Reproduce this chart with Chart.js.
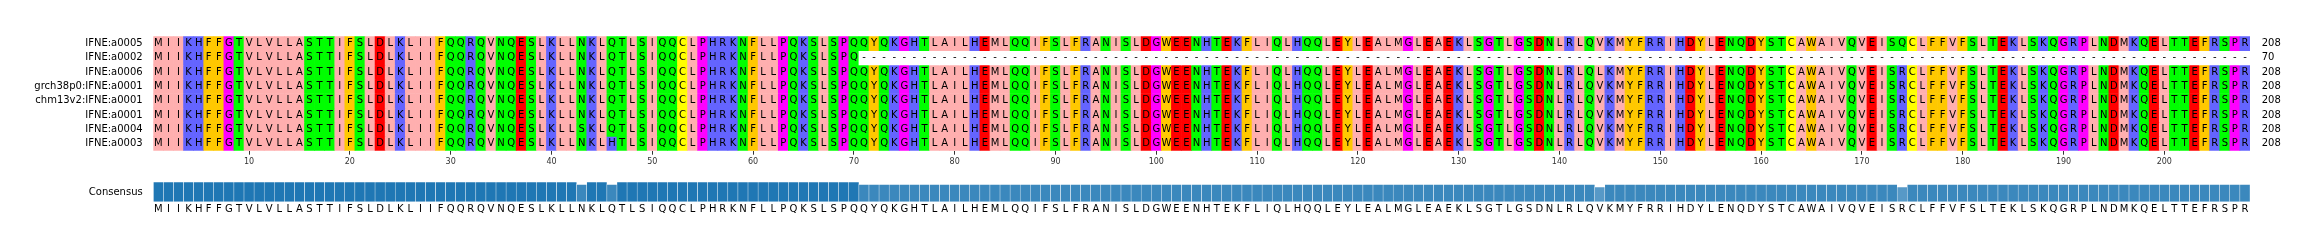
<!DOCTYPE html>
<html>
<head>
<meta charset="utf-8">
<title>IFNE alignment</title>
<script src="https://cdn.jsdelivr.net/npm/chart.js@4.4.0/dist/chart.umd.min.js"></script>
<style>
  html, body { margin: 0; padding: 0; background: #fff; }
  #wrap { position: relative; width: 2314px; height: 251px; overflow: hidden; background: #fff; }
  #grafico-alineamiento { position: absolute; left: 0; top: 0; }
  #grafico-consenso { position: absolute; left: 0; top: 165px; }
</style>
</head>
<body>
<div id="wrap">
  <canvas id="grafico-alineamiento" width="2314" height="170"></canvas>
  <canvas id="grafico-consenso" width="2314" height="86"></canvas>
</div>
<script>
// --- Datos del alineamiento ---
const seqNames = ['IFNE:a0005', 'IFNE:a0002', 'IFNE:a0006', 'grch38p0:IFNE:a0001',
                  'chm13v2:IFNE:a0001', 'IFNE:a0001', 'IFNE:a0004', 'IFNE:a0003'];
const seqLengths = [208, 70, 208, 208, 208, 208, 208, 208];

const alignedSeqs = [
    'MIIKHFFGTVLVLLASTTIFSLDLKLIIFQQRQVNQESLKLLNKLQTLSIQQCLPHRKNFLLPQKSLSPQQYQKGHTLAILHEMLQQIFSLFRANISLDGWEENHTEKFLIQLHQQLEYLEALMGLEAEKLSGTLGSDNLRLQVKMYFRRIHDYLENQDYSTCAWAIVQVEISQCLFFVFSLTEKLSKQGRPLNDMKQELTTEFRSPR',
    'MIIKHFFGTVLVLLASTTIFSLDLKLIIFQQRQVNQESLKLLNKLQTLSIQQCLPHRKNFLLPQKSLSPQ' + '-'.repeat(138),
    'MIIKHFFGTVLVLLASTTIFSLDLKLIIFQQRQVNQESLKLLNKLQTLSIQQCLPHRKNFLLPQKSLSPQQYQKGHTLAILHEMLQQIFSLFRANISLDGWEENHTEKFLIQLHQQLEYLEALMGLEAEKLSGTLGSDNLRLQLKMYFRRIHDYLENQDYSTCAWAIVQVEISRCLFFVFSLTEKLSKQGRPLNDMKQELTTEFRSPR',
    'MIIKHFFGTVLVLLASTTIFSLDLKLIIFQQRQVNQESLKLLNKLQTLSIQQCLPHRKNFLLPQKSLSPQQYQKGHTLAILHEMLQQIFSLFRANISLDGWEENHTEKFLIQLHQQLEYLEALMGLEAEKLSGTLGSDNLRLQVKMYFRRIHDYLENQDYSTCAWAIVQVEISRCLFFVFSLTEKLSKQGRPLNDMKQELTTEFRSPR',
    'MIIKHFFGTVLVLLASTTIFSLDLKLIIFQQRQVNQESLKLLNKLQTLSIQQCLPHRKNFLLPQKSLSPQQYQKGHTLAILHEMLQQIFSLFRANISLDGWEENHTEKFLIQLHQQLEYLEALMGLEAEKLSGTLGSDNLRLQVKMYFRRIHDYLENQDYSTCAWAIVQVEISRCLFFVFSLTEKLSKQGRPLNDMKQELTTEFRSPR',
    'MIIKHFFGTVLVLLASTTIFSLDLKLIIFQQRQVNQESLKLLNKLQTLSIQQCLPHRKNFLLPQKSLSPQQYQKGHTLAILHEMLQQIFSLFRANISLDGWEENHTEKFLIQLHQQLEYLEALMGLEAEKLSGTLGSDNLRLQVKMYFRRIHDYLENQDYSTCAWAIVQVEISRCLFFVFSLTEKLSKQGRPLNDMKQELTTEFRSPR',
    'MIIKHFFGTVLVLLASTTIFSLDLKLIIFQQRQVNQESLKLLSKLQTLSIQQCLPHRKNFLLPQKSLSPQQYQKGHTLAILHEMLQQIFSLFRANISLDGWEENHTEKFLIQLHQQLEYLEALMGLEAEKLSGTLGSDNLRLQVKMYFRRIHDYLENQDYSTCAWAIVQVEISRCLFFVFSLTEKLSKQGRPLNDMKQELTTEFRSPR',
    'MIIKHFFGTVLVLLASTTIFSLDLKLIIFQQRQVNQESLKLLNKLHTLSIQQCLPHRKNFLLPQKSLSPQQYQKGHTLAILHEMLQQIFSLFRANISLDGWEENHTEKFLIQLHQQLEYLEALMGLEAEKLSGTLGSDNLRLQVKMYFRRIHDYLENQDYSTCAWAIVQVEISRCLFFVFSLTEKLSKQGRPLNDMKQELTTEFRSPR'
];

const consensusSeq = 'MIIKHFFGTVLVLLASTTIFSLDLKLIIFQQRQVNQESLKLLNKLQTLSIQQCLPHRKNFLLPQKSLSPQQYQKGHTLAILHEMLQQIFSLFRANISLDGWEENHTEKFLIQLHQQLEYLEALMGLEAEKLSGTLGSDNLRLQVKMYFRRIHDYLENQDYSTCAWAIVQVEISRCLFFVFSLTEKLSKQGRPLNDMKQELTTEFRSPR';

// identidad del consenso (%), por columna
const consensusIdentity = [
    100, 100, 100, 100, 100, 100, 100, 100, 100, 100,
    100, 100, 100, 100, 100, 100, 100, 100, 100, 100,
    100, 100, 100, 100, 100, 100, 100, 100, 100, 100,
    100, 100, 100, 100, 100, 100, 100, 100, 100, 100,
    100, 100, 87.5, 100, 100, 87.5, 100, 100, 100, 100,
    100, 100, 100, 100, 100, 100, 100, 100, 100, 100,
    100, 100, 100, 100, 100, 100, 100, 100, 100, 100,
    87.5, 87.5, 87.5, 87.5, 87.5, 87.5, 87.5, 87.5, 87.5, 87.5,
    87.5, 87.5, 87.5, 87.5, 87.5, 87.5, 87.5, 87.5, 87.5, 87.5,
    87.5, 87.5, 87.5, 87.5, 87.5, 87.5, 87.5, 87.5, 87.5, 87.5,
    87.5, 87.5, 87.5, 87.5, 87.5, 87.5, 87.5, 87.5, 87.5, 87.5,
    87.5, 87.5, 87.5, 87.5, 87.5, 87.5, 87.5, 87.5, 87.5, 87.5,
    87.5, 87.5, 87.5, 87.5, 87.5, 87.5, 87.5, 87.5, 87.5, 87.5,
    87.5, 87.5, 87.5, 87.5, 87.5, 87.5, 87.5, 87.5, 87.5, 87.5,
    87.5, 87.5, 87.5, 75, 87.5, 87.5, 87.5, 87.5, 87.5, 87.5,
    87.5, 87.5, 87.5, 87.5, 87.5, 87.5, 87.5, 87.5, 87.5, 87.5,
    87.5, 87.5, 87.5, 87.5, 87.5, 87.5, 87.5, 87.5, 87.5, 87.5,
    87.5, 87.5, 87.5, 75, 87.5, 87.5, 87.5, 87.5, 87.5, 87.5,
    87.5, 87.5, 87.5, 87.5, 87.5, 87.5, 87.5, 87.5, 87.5, 87.5,
    87.5, 87.5, 87.5, 87.5, 87.5, 87.5, 87.5, 87.5, 87.5, 87.5,
    87.5, 87.5, 87.5, 87.5, 87.5, 87.5, 87.5, 87.5
];

const positionLabels = Array.from({ length: consensusSeq.length }, (_, i) => String(i + 1));
const tickPositions = [10, 20, 30, 40, 50, 60, 70, 80, 90, 100, 110, 120, 130, 140, 150, 160, 170, 180, 190, 200];

// esquema de color Zappo
const zappoColors = {
    I: '#ffafaf', L: '#ffafaf', V: '#ffafaf', A: '#ffafaf', M: '#ffafaf',
    F: '#ffc800', W: '#ffc800', Y: '#ffc800',
    K: '#6464ff', R: '#6464ff', H: '#6464ff',
    D: '#ff0000', E: '#ff0000',
    S: '#00ff00', T: '#00ff00', N: '#00ff00', Q: '#00ff00',
    G: '#ff00ff', P: '#ff00ff',
    C: '#ffff00',
    '-': '#ffffff'
};

Chart.defaults.font.family = "'DejaVu Sans', sans-serif";

// --- Plugin: letras sobre cada celda ---
const letrasPlugin = {
    id: 'letras',
    afterDatasetsDraw(chart) {
        const ctx = chart.ctx;
        ctx.save();
        ctx.font = "10px 'DejaVu Sans'";
        ctx.fillStyle = '#000';
        ctx.textAlign = 'center';
        ctx.textBaseline = 'middle';
        chart.data.datasets.forEach((ds, r) => {
            const meta = chart.getDatasetMeta(r);
            const seq = alignedSeqs[r];
            meta.data.forEach((bar, i) => {
                const p = bar.getProps(['x', 'y', 'base'], true);
                ctx.fillText(seq[i], p.x, (p.y + p.base) / 2);
            });
        });
        ctx.restore();
    }
};

// --- Gráfico del alineamiento ---
const ctxAlign = document.getElementById('grafico-alineamiento').getContext('2d');
new Chart(ctxAlign, {
    type: 'bar',
    data: {
        labels: positionLabels,
        datasets: alignedSeqs.map((seq, r) => ({
            label: seqNames[r],
            data: seq.split('').map(() => [r + 0.5, r + 1.5]),
            backgroundColor: seq.split('').map(c => zappoColors[c]),
            borderWidth: 0,
            grouped: false,
            barPercentage: 1,
            categoryPercentage: 1
        }))
    },
    options: {
        responsive: false,
        animation: false,
        events: [],
        layout: { padding: { top: 36.3, bottom: 0, left: 0, right: 0 } },
        plugins: { legend: { display: false }, tooltip: { enabled: false } },
        scales: {
            x: {
                type: 'category',
                offset: true,
                grid: { display: true, offset: false, drawOnChartArea: false, drawTicks: true, tickLength: 4, color: '#333', lineWidth: 1 },
                border: { display: false },
                ticks: { autoSkip: false, maxRotation: 0, minRotation: 0, padding: 2, color: '#333', font: { size: 8 } },
                afterBuildTicks: s => { s.ticks = tickPositions.map(p => ({ value: p - 1 })); },
                afterFit: s => { s.height = 19.3; }
            },
            y: {
                type: 'linear',
                position: 'left',
                reverse: true,
                min: 0.5,
                max: 8.5,
                grid: { display: false, drawTicks: false },
                border: { display: false },
                afterBuildTicks: s => { s.ticks = seqNames.map((n, i) => ({ value: i + 1 })); },
                ticks: { padding: 10.6, color: '#000', font: { size: 10 }, callback: v => seqNames[v - 1] },
                afterFit: s => { s.width = 153.3; }
            },
            yLen: {
                type: 'linear',
                position: 'right',
                reverse: true,
                min: 0.5,
                max: 8.5,
                grid: { display: false, drawTicks: false },
                border: { display: false },
                afterBuildTicks: s => { s.ticks = seqLengths.map((n, i) => ({ value: i + 1 })); },
                ticks: { padding: 11.7, color: '#000', font: { size: 10 }, callback: v => String(seqLengths[v - 1]) },
                afterFit: s => { s.width = 64; }
            }
        }
    },
    plugins: [letrasPlugin]
});

// --- Gráfico del consenso ---
const ctxCons = document.getElementById('grafico-consenso').getContext('2d');
new Chart(ctxCons, {
    type: 'bar',
    data: {
        labels: consensusSeq.split(''),
        datasets: [{
            label: 'Consensus',
            data: consensusIdentity,
            backgroundColor: consensusIdentity.map(v => `rgba(31, 119, 180, ${v / 100})`),
            borderColor: '#ffffff',
            borderWidth: { left: 0.5, right: 0.5, top: 1, bottom: 0 },
            borderSkipped: false,
            barPercentage: 1,
            categoryPercentage: 1
        }]
    },
    options: {
        responsive: false,
        animation: false,
        events: [],
        layout: { padding: { top: 8.3, right: 64, left: 0, bottom: 0 } },
        plugins: { legend: { display: false }, tooltip: { enabled: false } },
        scales: {
            x: {
                grid: { display: false, drawTicks: false },
                border: { display: false },
                ticks: { autoSkip: false, maxRotation: 0, minRotation: 0, padding: 1.6, color: '#000', font: { size: 10 } },
                afterFit: s => { s.height = 86 - 36.7; }
            },
            y: {
                min: 0,
                max: 100,
                grid: { display: false, drawTicks: false },
                border: { display: false },
                afterBuildTicks: s => { s.ticks = [{ value: 44 }]; },
                ticks: { padding: 10.6, color: '#000', font: { size: 10 }, callback: () => 'Consensus' },
                afterFit: s => { s.width = 153.3; }
            }
        }
    }
});
</script>
</body>
</html>
